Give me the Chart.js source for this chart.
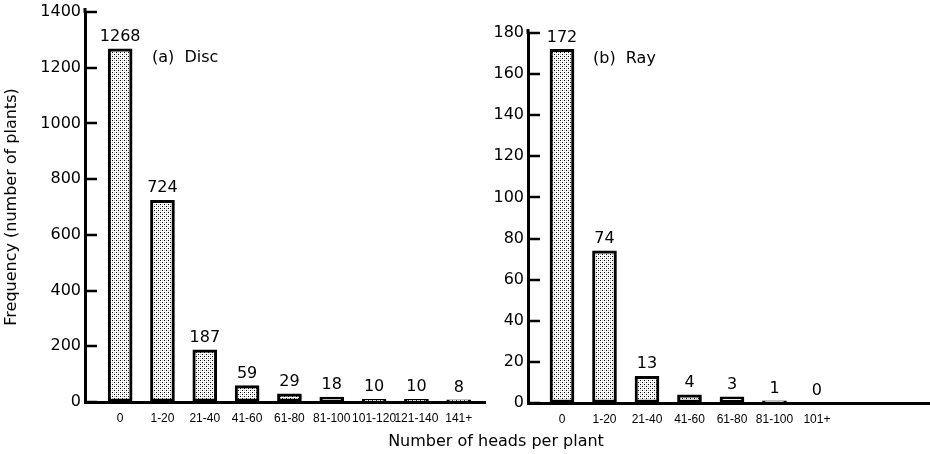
<!DOCTYPE html>
<html>
<head>
<meta charset="utf-8">
<script src="https://cdn.jsdelivr.net/npm/chart.js@4.4.1/dist/chart.umd.min.js"></script>
<style>
    body { margin: 0; background: #fff; }
    #wrap { position: relative; width: 930px; height: 454px; overflow: hidden; }
    .panel { position: absolute; top: 0; height: 454px; }
    #disc-box { left: 0; width: 488px; }
    #ray-box { left: 488px; width: 442px; }
    #x-title {
        position: absolute; left: 346px; width: 300px; top: 431px;
        text-align: center; font: 16px "DejaVu Sans", sans-serif; color: #000;
    }
</style>
</head>
<body>
<div id="wrap">
    <div class="panel" id="disc-box"><canvas id="disc-chart"></canvas></div>
    <div class="panel" id="ray-box"><canvas id="ray-chart"></canvas></div>
    <div id="x-title">Number of heads per plant</div>
</div>
<script>
// data
const discCategories = ['0', '1-20', '21-40', '41-60', '61-80', '81-100', '101-120', '121-140', '141+'];
const discValues = [1268, 724, 187, 59, 29, 18, 10, 10, 8];
const rayCategories = ['0', '1-20', '21-40', '41-60', '61-80', '81-100', '101+'];
const rayValues = [172, 74, 13, 4, 3, 1, 0];
const discMax = 1400;
const discStep = 200;
const rayMax = 180;
const rayStep = 20;

const tickFont = { family: '"DejaVu Sans", sans-serif', size: 16 };
const catFont = { family: '"Liberation Sans", sans-serif', size: 12 };

// stippled fill like the printed figure
function makeStipple() {
    const c = document.createElement('canvas');
    c.width = 4;
    c.height = 4;
    const g = c.getContext('2d');
    g.fillStyle = '#fff';
    g.fillRect(0, 0, 4, 4);
    g.fillStyle = '#000';
    g.fillRect(0, 0, 1, 1);
    g.fillRect(2, 2, 1, 1);
    g.fillStyle = '#bbb';
    g.fillRect(2, 0, 1, 1);
    g.fillRect(0, 2, 1, 1);
    return g.createPattern(c, 'repeat');
}
const stipple = makeStipple();

// numbers above each bar
const valueLabels = {
    id: 'valueLabels',
    afterDatasetsDraw(chart) {
        const ctx = chart.ctx;
        const meta = chart.getDatasetMeta(0);
        ctx.save();
        ctx.font = '16px "DejaVu Sans", sans-serif';
        ctx.fillStyle = '#000';
        ctx.textAlign = 'center';
        ctx.textBaseline = 'bottom';
        meta.data.forEach((bar, i) => {
            ctx.fillText(chart.data.datasets[0].data[i].y, bar.x, bar.y - 4);
        });
        ctx.restore();
    }
};

// tick marks on the inside of the y axis, axis line runs a bit past the top
const innerTicks = {
    id: 'innerTicks',
    afterDraw(chart) {
        const ctx = chart.ctx;
        const y = chart.scales.y;
        ctx.save();
        ctx.strokeStyle = '#000';
        ctx.lineWidth = 2.5;
        y.ticks.forEach(t => {
            const py = Math.round(y.getPixelForValue(t.value));
            ctx.beginPath();
            ctx.moveTo(y.right, py);
            ctx.lineTo(y.right + 12, py);
            ctx.stroke();
        });
        ctx.lineWidth = 3;
        ctx.beginPath();
        ctx.moveTo(y.right, y.top - 4);
        ctx.lineTo(y.right, y.top + 1);
        ctx.stroke();
        ctx.restore();
    }
};

// "(a) Disc" style panel caption
const panelLabel = {
    id: 'panelLabel',
    afterDraw(chart, args, opts) {
        const ctx = chart.ctx;
        ctx.save();
        ctx.font = '16px "DejaVu Sans", sans-serif';
        ctx.fillStyle = '#000';
        ctx.textAlign = 'left';
        ctx.textBaseline = 'middle';
        ctx.fillText(opts.text, opts.x, opts.y);
        ctx.restore();
    }
};

function zeroPadding(s) {
    s.paddingLeft = 0;
    s.paddingRight = 0;
    s.paddingTop = 0;
    s.paddingBottom = 0;
}

function makeChart(id, categories, values, cfg) {
    return new Chart(document.getElementById(id), {
        type: 'bar',
        data: {
            datasets: [{
                data: values.map((v, i) => ({ x: i, y: v })),
                backgroundColor: stipple,
                borderColor: '#000',
                borderWidth: 3,
                borderSkipped: false,
                barThickness: 24
            }]
        },
        plugins: [valueLabels, innerTicks, panelLabel],
        options: {
            responsive: true,
            maintainAspectRatio: false,
            animation: false,
            layout: { padding: { top: cfg.top, right: cfg.right, left: 0, bottom: 0 } },
            plugins: {
                legend: { display: false },
                tooltip: { enabled: false },
                panelLabel: cfg.label
            },
            scales: {
                x: {
                    type: 'linear',
                    min: cfg.xMin,
                    max: cfg.xMax,
                    bounds: 'data',
                    offset: false,
                    grid: { display: false, drawTicks: false, offset: false },
                    border: { display: true, color: '#000', width: 3 },
                    ticks: {
                        autoSkip: false,
                        maxRotation: 0,
                        minRotation: 0,
                        padding: 9,
                        color: '#000',
                        font: catFont,
                        callback: (v) => categories[v] !== undefined ? categories[v] : ''
                    },
                    // one tick per category index
                    afterBuildTicks: (s) => { s.ticks = categories.map((c, i) => ({ value: i })); },
                    afterFit: (s) => { s.height = cfg.xHeight; zeroPadding(s); }
                },
                y: {
                    min: 0,
                    max: cfg.yMax,
                    grid: { drawOnChartArea: false, drawTicks: false },
                    border: { display: true, color: '#000', width: 3 },
                    ticks: {
                        stepSize: cfg.yStep,
                        padding: 4,
                        color: '#000',
                        font: tickFont,
                        callback: (v) => String(v)
                    },
                    title: {
                        display: cfg.yTitle,
                        text: 'Frequency (number of plants)',
                        color: '#000',
                        font: { family: '"DejaVu Sans", sans-serif', size: 16 },
                        padding: { top: 2, bottom: 2 }
                    },
                    afterFit: (s) => { s.width = cfg.yWidth; zeroPadding(s); }
                }
            }
        }
    });
}

makeChart('disc-chart', discCategories, discValues, {
    top: 12, right: 3, xMin: -0.83, xMax: 8.62, xHeight: 52,
    yMax: discMax, yStep: discStep, yTitle: true, yWidth: 85,
    label: { text: '(a)  Disc', x: 152, y: 58 }
});

makeChart('ray-chart', rayCategories, rayValues, {
    top: 33, right: 0, xMin: -0.8, xMax: 8.66, xHeight: 51,
    yMax: rayMax, yStep: rayStep, yTitle: false, yWidth: 40,
    label: { text: '(b)  Ray', x: 105, y: 59 }
});
</script>
</body>
</html>
